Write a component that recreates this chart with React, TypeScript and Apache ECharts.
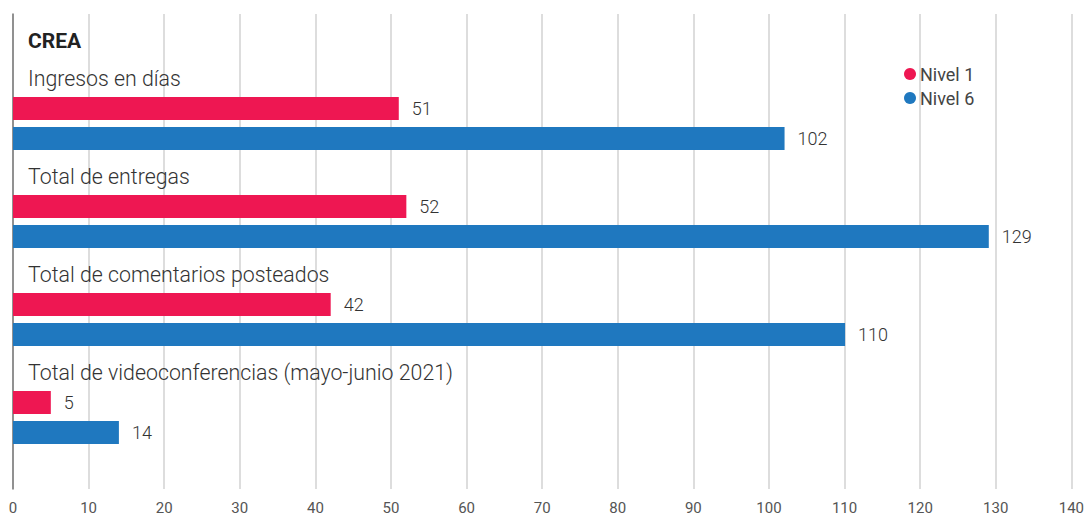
import React, { useEffect, useRef } from "react";
import * as echarts from "echarts";

const categories = [
  "Ingresos en días",
  "Total de entregas",
  "Total de comentarios posteados",
  "Total de videoconferencias (mayo-junio 2021)",
];
const seriesNames = ["Nivel 1", "Nivel 6"];
const nivel1 = [51, 52, 42, 5];
const nivel6 = [102, 129, 110, 14];
const colors = ["#ee1752", "#1f78bf"];
const title = "CREA";

export default function App() {
  const ref = useRef<HTMLDivElement>(null);
  useEffect(() => {
    document.body.style.margin = "0";
    const chart = echarts.init(ref.current!, null, { renderer: "svg" });
    const font = "Roboto, 'Noto Sans', sans-serif";
    chart.setOption({
      animation: false,
      textStyle: { fontFamily: font },
      title: {
        text: title,
        left: 23,
        top: 25,
        textStyle: { fontSize: 21, fontWeight: "bold", color: "#222", fontFamily: font },
      },
      legend: {
        orient: "vertical",
        left: 899,
        top: 60,
        icon: "circle",
        itemWidth: 12,
        itemHeight: 12,
        itemGap: 6,
        data: seriesNames,
        textStyle: { fontSize: 18, color: "#444", fontFamily: font, padding: [0, 0, 0, -1] },
      },
      grid: [
        { left: 13, right: 15, top: 14, bottom: 30, containLabel: false },
        { left: 13, right: 15, top: 74.5, height: 392, containLabel: false },
      ],
      xAxis: [
        {
          type: "value",
          gridIndex: 0,
          min: 0,
          max: 140,
          interval: 10,
          axisLine: { show: false },
          axisTick: { show: false },
          axisLabel: { fontSize: 15, color: "#555", margin: 11, fontFamily: font },
          splitLine: { show: true, lineStyle: { color: "#d2d2d2", width: 1.5 } },
        },
        {
          type: "value",
          gridIndex: 1,
          min: 0,
          max: 140,
          interval: 10,
          show: false,
        },
      ],
      yAxis: [
        {
          type: "value",
          gridIndex: 0,
          axisLine: { show: true, lineStyle: { color: "#777", width: 1.5 } },
          axisTick: { show: false },
          axisLabel: { show: false },
          splitLine: { show: false },
        },
        {
          type: "category",
          gridIndex: 1,
          inverse: true,
          data: categories,
          axisLine: { show: false },
          axisTick: { show: false },
          splitLine: { show: false },
          axisLabel: {
            inside: true,
            margin: 15,
            interval: 0,
            showMinLabel: true,
            showMaxLabel: true,
            hideOverlap: false,
            verticalAlign: "middle",
            formatter: (v: string) => `{t|${v}}`,
            rich: {
              t: {
                fontSize: 21.33,
                fontWeight: 300,
                color: "#333",
                fontFamily: font,
                lineHeight: 24,
                padding: [0, 0, 91, 0],
              },
            },
          },
        },
      ],
      series: [nivel1, nivel6].map((d, i) => ({
        name: seriesNames[i],
        type: "bar",
        xAxisIndex: 1,
        yAxisIndex: 1,
        data: d,
        barWidth: 23,
        barGap: "30%",
        itemStyle: { color: colors[i] },
        label: {
          show: true,
          position: "right",
          distance: 13,
          fontSize: 18,
          fontWeight: 300,
          color: "#333",
          fontFamily: font,
        },
      })),
    });
    return () => chart.dispose();
  }, []);
  return <div ref={ref} style={{ width: 1087, height: 519 }} />;
}
